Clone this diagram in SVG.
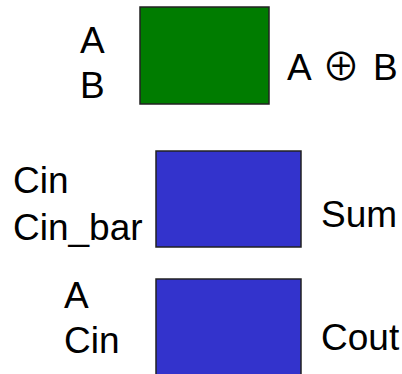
<svg xmlns="http://www.w3.org/2000/svg" width="402" height="374" viewBox="0 0 402 374">
<style>
text{font-family:"Liberation Sans",Arial,sans-serif;font-size:37px;fill:#000}
.box{stroke:#222;stroke-width:1.5}
</style>
<rect width="402" height="374" fill="#fff"/>
<g id="xor">
<rect class="box" x="140" y="7" width="129" height="97" fill="#007c00"/>
<text x="80" y="53">A</text>
<text x="80" y="98">B</text>
<text y="80" font-size="39"><tspan x="287">A</tspan><tspan x="322" y="80" font-family="'Noto Sans CJK JP',sans-serif" font-size="38">⊕</tspan><tspan x="373" y="80">B</tspan></text>
</g>
<g id="sum">
<rect class="box" x="156" y="151" width="145" height="96" fill="#3333cc"/>
<text x="13" y="193">Cin</text>
<text x="13" y="240">Cin_bar</text>
<text x="321" y="227">Sum</text>
</g>
<g id="cout">
<rect class="box" x="156" y="279" width="145" height="100" fill="#3333cc"/>
<text x="64" y="308">A</text>
<text x="64" y="353">Cin</text>
<text x="321" y="350">Cout</text>
</g>
<g id="connectors"/>
</svg>
